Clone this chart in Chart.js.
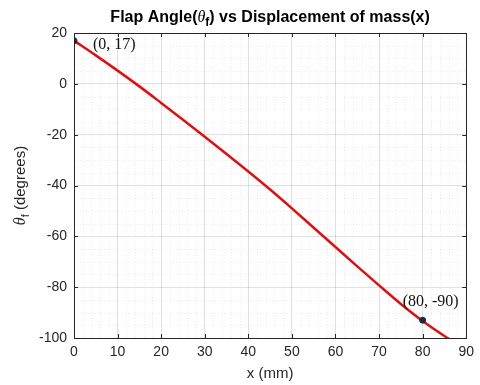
<!DOCTYPE html>
<html><head><meta charset="utf-8">
<script src="https://cdn.jsdelivr.net/npm/chart.js@4/dist/chart.umd.min.js"></script>
<style>html,body{margin:0;padding:0;background:#fff}#wrap{width:480px;height:385px}</style>
</head><body><div id="wrap"><canvas id="c" width="480" height="385"></canvas></div>
<script>
const xValues = [0, 5, 10, 15, 20, 25, 30, 35, 40, 45, 50, 55, 60, 65, 70, 75, 80, 85, 90];
const thetaValues = [17, 11.2, 5.2, -1.0, -7.5, -14.1, -20.8, -27.6, -34.5, -41.6, -49.0, -56.6, -64.2, -71.8, -79.3, -86.6, -93.3, -99.2, -104.5];
const markerX = [0, 80];
const markerY = [17, -93];
const markerLabels = ['(0, 17)', '(80, -90)'];
const xTicks = [0, 10, 20, 30, 40, 50, 60, 70, 80, 90];
const yTicks = [-100, -80, -60, -40, -20, 0, 20];

const textColor = '#262626';

const overlay = {
  id: 'overlay',
  beforeDatasetsDraw(chart) {
    const {ctx, chartArea: a, scales: {x, y}} = chart;
    ctx.save();
    ctx.strokeStyle = 'rgba(0,0,0,0.13)';
    ctx.lineWidth = 0.6;
    ctx.setLineDash([1, 2]);
    for (let v = 0; v <= 90; v += 2) {
      if (v % 10 === 0) continue;
      const px = Math.round(x.getPixelForValue(v)) + 0.5;
      ctx.beginPath(); ctx.moveTo(px, a.top); ctx.lineTo(px, a.bottom); ctx.stroke();
    }
    for (let v = -100; v <= 20; v += 5) {
      if (v % 20 === 0) continue;
      const py = Math.round(y.getPixelForValue(v)) + 0.5;
      ctx.beginPath(); ctx.moveTo(a.left, py); ctx.lineTo(a.right, py); ctx.stroke();
    }
    ctx.restore();
  },
  afterDraw(chart) {
    const {ctx, chartArea: a, scales: {x, y}} = chart;
    ctx.save();
    ctx.strokeStyle = '#262626';
    ctx.lineWidth = 1;
    ctx.setLineDash([]);
    ctx.strokeRect(Math.round(a.left) + 0.5, Math.round(a.top) + 0.5, Math.round(a.right - a.left), Math.round(a.bottom - a.top));
    ctx.beginPath();
    xTicks.forEach(v => {
      const px = Math.round(x.getPixelForValue(v)) + 0.5;
      ctx.moveTo(px, a.bottom); ctx.lineTo(px, a.bottom - 4);
      ctx.moveTo(px, a.top); ctx.lineTo(px, a.top + 4);
    });
    yTicks.forEach(v => {
      const py = Math.round(y.getPixelForValue(v)) + 0.5;
      ctx.moveTo(a.left, py); ctx.lineTo(a.left + 4, py);
      ctx.moveTo(a.right, py); ctx.lineTo(a.right - 4, py);
    });
    ctx.stroke();
    ctx.fillStyle = '#111';
    ctx.font = '16px "Liberation Serif", "Times New Roman", serif';
    ctx.textBaseline = 'middle';
    ctx.textAlign = 'left';
    ctx.fillText(markerLabels[0], x.getPixelForValue(markerX[0]) + 19, y.getPixelForValue(markerY[0]) + 4);
    ctx.fillText(markerLabels[1], x.getPixelForValue(markerX[1]) - 20, y.getPixelForValue(markerY[1]) - 18);

    ctx.fillStyle = '#000';
    ctx.textBaseline = 'alphabetic';
    const parts = [
      {t: 'Flap Angle(', f: 'bold 16px "Liberation Sans", Arial, sans-serif', dy: 0},
      {t: 'θ', f: 'italic 16px "Liberation Serif", serif', dy: 0},
      {t: 'f', f: 'bold 12px "Liberation Sans", Arial, sans-serif', dy: 4},
      {t: ') vs Displacement of mass(x)', f: 'bold 16px "Liberation Sans", Arial, sans-serif', dy: 0}
    ];
    let total = 0;
    parts.forEach(p => { ctx.font = p.f; p.w = ctx.measureText(p.t).width; total += p.w; });
    let cx = (a.left + a.right) / 2 - total / 2;
    parts.forEach(p => { ctx.font = p.f; ctx.fillText(p.t, cx, 22 + p.dy); cx += p.w; });

    ctx.fillStyle = textColor;
    ctx.font = '15px "Liberation Sans", Arial, sans-serif';
    ctx.textAlign = 'center';
    ctx.fillText('x (mm)', (a.left + a.right) / 2, 378);

    ctx.save();
    ctx.translate(25, (a.top + a.bottom) / 2);
    ctx.rotate(-Math.PI / 2);
    const yp = [
      {t: 'θ', f: 'italic 16px "Liberation Serif", serif', dy: 0},
      {t: 'f', f: '11px "Liberation Sans", Arial, sans-serif', dy: 4},
      {t: ' (degrees)', f: '15px "Liberation Sans", Arial, sans-serif', dy: 0}
    ];
    let tw = 0;
    yp.forEach(p => { ctx.font = p.f; p.w = ctx.measureText(p.t).width; tw += p.w; });
    let sx = -tw / 2;
    ctx.textAlign = 'left';
    yp.forEach(p => { ctx.font = p.f; ctx.fillText(p.t, sx, p.dy); sx += p.w; });
    ctx.restore();
    ctx.restore();
  }
};

new Chart(document.getElementById('c'), {
  type: 'scatter',
  data: {
    datasets: [
      {
        data: markerX.map((v, i) => ({x: v, y: markerY[i]})),
        showLine: false,
        pointRadius: 3,
        pointBackgroundColor: '#1b2b3c',
        pointBorderColor: '#1b2b3c',
        order: 0
      },
      {
        data: xValues.map((v, i) => ({x: v, y: thetaValues[i]})),
        showLine: true,
        borderColor: '#e01010',
        borderWidth: 2.5,
        pointRadius: 0,
        tension: 0.4,
        cubicInterpolationMode: 'monotone',
        order: 1
      }
    ]
  },
  options: {
    responsive: false,
    animation: false,
    events: [],
    layout: {padding: {top: 33, right: 13, left: 0, bottom: 0}},
    plugins: {legend: {display: false}, tooltip: {enabled: false}, title: {display: false}},
    scales: {
      x: {
        type: 'linear', min: 0, max: 90,
        afterBuildTicks: s => { s.ticks = xTicks.map(v => ({value: v})); },
        afterFit: s => { s.height = 47; },
        grid: {color: 'rgba(0,0,0,0.15)', lineWidth: 0.8, drawTicks: false},
        border: {display: false},
        ticks: {color: textColor, font: {family: '"Liberation Sans", Arial, sans-serif', size: 14}, padding: 6, maxRotation: 0}
      },
      y: {
        type: 'linear', min: -100, max: 20,
        afterBuildTicks: s => { s.ticks = yTicks.map(v => ({value: v})); },
        afterFit: s => { s.width = 74; },
        grid: {color: 'rgba(0,0,0,0.15)', lineWidth: 0.8, drawTicks: false},
        border: {display: false},
        ticks: {color: textColor, font: {family: '"Liberation Sans", Arial, sans-serif', size: 14}, padding: 7}
      }
    }
  },
  plugins: [overlay]
});
</script>
</body></html>
